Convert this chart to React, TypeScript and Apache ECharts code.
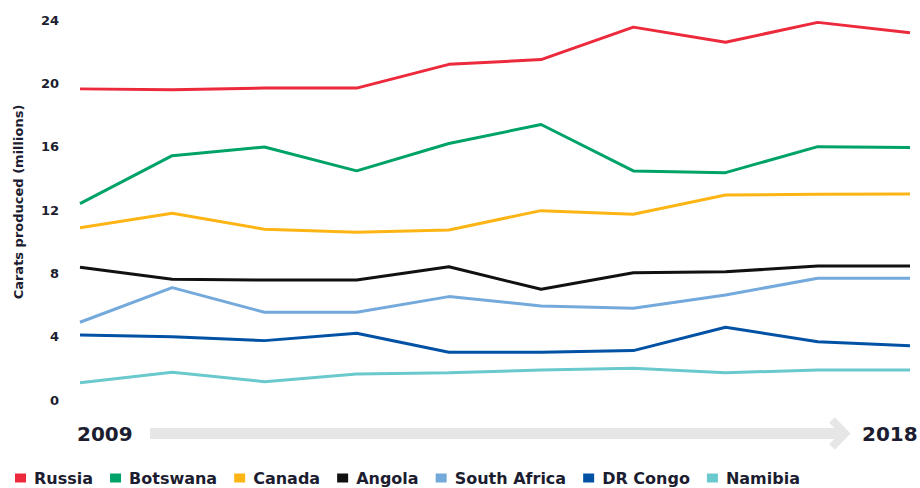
import React, { useEffect, useRef } from "react";
import * as echarts from "echarts";

const years = ["2009", "2010", "2011", "2012", "2013", "2014", "2015", "2016", "2017", "2018"];
const russia = [19.65, 19.6, 19.7, 19.7, 21.2, 21.5, 23.55, 22.6, 23.85, 23.2];
const botswana = [12.4, 15.43, 15.98, 14.47, 16.2, 17.4, 14.47, 14.36, 16.0, 15.94];
const canada = [10.88, 11.79, 10.78, 10.59, 10.74, 11.96, 11.73, 12.95, 12.99, 13.01];
const angola = [8.38, 7.62, 7.58, 7.58, 8.42, 6.99, 8.04, 8.1, 8.46, 8.46];
const southAfrica = [4.91, 7.1, 5.54, 5.54, 6.53, 5.94, 5.79, 6.63, 7.69, 7.69];
const drCongo = [4.1, 4.0, 3.75, 4.21, 3.01, 3.01, 3.12, 4.59, 3.68, 3.43];
const namibia = [1.09, 1.75, 1.16, 1.64, 1.72, 1.9, 2.0, 1.72, 1.9, 1.9];
const yTicks = [0, 4, 8, 12, 16, 20, 24];

const seriesDefs = [
  { name: "Russia", data: russia, color: "#ec2a3b" },
  { name: "Botswana", data: botswana, color: "#00a367" },
  { name: "Canada", data: canada, color: "#fdb515" },
  { name: "Angola", data: angola, color: "#111111" },
  { name: "South Africa", data: southAfrica, color: "#74a9dc" },
  { name: "DR Congo", data: drCongo, color: "#0152a5" },
  { name: "Namibia", data: namibia, color: "#6ac9cc" },
];

const TEXT = "#1c1d30";
const FONT = "'DejaVu Sans', sans-serif";

export default function App() {
  const ref = useRef<HTMLDivElement>(null);
  useEffect(() => {
    document.body.style.margin = "0";
    if (!ref.current) return;
    const chart = echarts.init(ref.current, undefined, { renderer: "svg" });
    chart.setOption({
      animation: false,
      backgroundColor: "#ffffff",
      grid: { left: 80, right: 10, top: 20, bottom: 88 },
      xAxis: {
        type: "category",
        data: years,
        boundaryGap: false,
        axisLine: { show: false },
        axisTick: { show: false },
        axisLabel: { show: false },
        splitLine: { show: false },
      },
      yAxis: {
        type: "value",
        min: yTicks[0],
        max: yTicks[yTicks.length - 1],
        interval: 4,
        axisLine: { show: false },
        axisTick: { show: false },
        splitLine: { show: false },
        axisLabel: {
          margin: 21,
          color: TEXT,
          fontFamily: FONT,
          fontWeight: 700,
          fontSize: 13,
        },
      },
      legend: {
        left: 10,
        top: 464,
        icon: "rect",
        itemWidth: 11,
        itemHeight: 9,
        itemGap: 17,
        textStyle: {
          color: TEXT,
          fontFamily: FONT,
          fontWeight: 700,
          fontSize: 16,
          lineHeight: 18,
          padding: [0, 0, 0, 3],
        },
        data: seriesDefs.map((s) => s.name),
      },
      series: seriesDefs.map((s) => ({
        name: s.name,
        type: "line",
        data: s.data,
        color: s.color,
        showSymbol: false,
        symbol: "none",
        lineStyle: { width: 3, color: s.color },
      })),
      graphic: [
        {
          type: "text",
          x: 18,
          y: 202,
          rotation: Math.PI / 2,
          style: {
            text: "Carats produced (millions)",
            fill: TEXT,
            font: "bold 13px 'DejaVu Sans', sans-serif",
            align: "center",
            verticalAlign: "middle",
          },
        },
        {
          type: "line",
          shape: { x1: 150, y1: 433.5, x2: 840, y2: 433.5 },
          style: { stroke: "#e6e6e6", lineWidth: 11 },
        },
        {
          type: "polyline",
          shape: { points: [[832, 420], [845, 433.5], [832, 447]] },
          style: { stroke: "#e6e6e6", lineWidth: 8, fill: "none" },
        },
        {
          type: "text",
          x: 77,
          y: 434,
          style: {
            text: "2009",
            fill: TEXT,
            font: "bold 20px 'DejaVu Sans', sans-serif",
            verticalAlign: "middle",
          },
        },
        {
          type: "text",
          x: 862,
          y: 434,
          style: {
            text: "2018",
            fill: TEXT,
            font: "bold 20px 'DejaVu Sans', sans-serif",
            verticalAlign: "middle",
          },
        },
      ],
    });
    return () => chart.dispose();
  }, []);
  return <div ref={ref} style={{ position: "absolute", left: 0, top: 0, width: 920, height: 488 }} />;
}
